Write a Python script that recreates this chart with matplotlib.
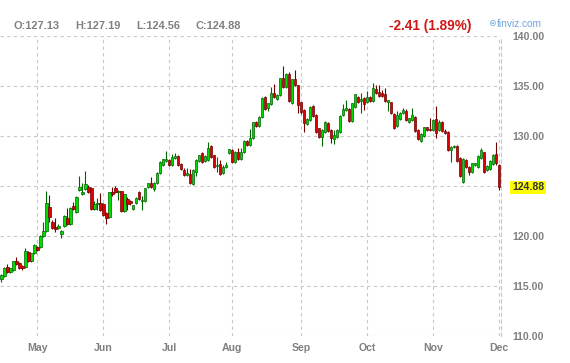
import numpy as np
import matplotlib.pyplot as plt

plt.rcParams['font.family'] = ['Liberation Sans', 'DejaVu Sans']

# ── Daily OHLC (mid-April .. 1 Dec) ──────────────────────────────
opens = [
    115.7, 116.03, 116.93, 116.43, 116.6, 117.53, 117.27, 117.0, 116.87, 118.37, 117.47, 118.3,
    118.9, 118.9, 120.0, 120.47, 122.9, 121.43, 120.93, 120.77, 120.17, 121.0, 121.77, 121.2,
    123.03, 122.43, 124.57, 124.2, 124.67, 124.93, 124.83, 122.7,
    123.2, 123.33, 123.2, 122.27, 121.87, 124.4, 124.8, 124.4, 124.47, 122.47, 123.73, 123.53,
    122.67, 123.27, 124.4, 123.5, 123.53, 124.93, 125.33, 124.67, 125.33, 126.27, 127.13, 127.53,
    127.6, 127.07, 127.8, 128.0, 127.2, 126.6, 126.13, 126.2, 125.2,
    126.43, 127.53, 128.27, 127.53, 127.6, 129.0, 128.07, 127.0, 127.2, 126.27, 126.93, 128.27,
    128.6, 127.43, 128.37, 127.67, 128.43, 129.53, 129.1, 129.77, 131.4, 131.0, 131.87, 133.9,
    132.77, 133.17, 134.27, 133.73, 134.07, 135.83, 134.93, 136.2, 133.33, 135.73,
    135.07, 133.37, 132.6, 131.17, 131.57, 132.97, 132.1, 130.77, 129.9, 130.43, 131.33, 130.6,
    129.7, 129.93, 130.37, 132.1, 132.6, 132.7, 131.53, 132.93, 133.93, 133.53, 133.83, 133.37,
    133.9, 133.5, 134.7, 134.37, 134.27, 134.17, 133.43, 133.37, 132.2,
    131.03, 131.7, 132.27, 132.5, 131.43, 131.6, 131.93, 130.6, 129.53, 130.03, 130.87, 130.73,
    130.6, 131.7, 130.6, 131.37, 130.53, 130.43, 128.6, 128.9, 129.0, 127.83, 125.37, 127.6,
    126.93, 126.43, 127.1, 126.93, 127.77, 128.37, 126.6, 126.7, 127.17, 128.17, 127.13,
]
highs = [
    116.2, 116.9, 117.17, 116.85, 117.55, 117.87, 117.4, 117.1, 118.77, 118.5, 118.35, 119.17,
    119.0, 120.1, 121.37, 124.5, 124.1, 121.6, 121.83, 121.2, 120.6, 122.1, 122.83, 122.9,
    123.43, 124.0, 126.0, 125.27, 126.5, 125.1, 124.9, 123.5,
    123.83, 124.27, 123.3, 122.4, 124.45, 124.93, 125.0, 124.6, 124.55, 124.25, 123.9, 123.65,
    123.15, 123.9, 124.5, 124.0, 124.85, 125.35, 125.93, 125.4, 126.4, 127.5, 127.75, 128.53,
    127.7, 128.2, 128.3, 128.1, 127.3, 126.8, 126.8, 126.7, 126.7,
    127.7, 128.15, 128.4, 128.1, 129.4, 129.1, 128.15, 127.93, 127.6, 127.07, 127.4, 128.75,
    128.7, 128.5, 128.77, 128.77, 129.6, 129.6, 130.67, 131.45, 131.5, 132.0, 133.95, 134.0,
    133.35, 134.93, 135.2, 134.2, 135.85, 137.0, 136.3, 136.43, 135.75, 136.6,
    135.15, 133.45, 132.7, 131.8, 133.0, 133.1, 132.2, 130.85, 130.7, 131.5, 131.45, 130.7,
    130.6, 130.7, 132.1, 133.17, 133.6, 132.8, 133.35, 134.25, 134.0, 134.27, 133.9, 134.5,
    134.0, 135.27, 135.1, 135.1, 134.6, 134.83, 133.6, 133.45, 132.3,
    132.5, 132.45, 132.83, 132.7, 131.85, 132.77, 132.0, 130.7, 130.27, 130.95, 130.95, 131.83,
    131.7, 133.0, 131.6, 131.5, 130.7, 130.5, 129.0, 129.1, 129.1, 127.9, 127.8, 127.7,
    127.0, 127.35, 127.35, 128.1, 128.77, 128.45, 127.1, 127.6, 128.2, 129.37, 127.19,
]
lows = [
    115.4, 115.9, 116.3, 116.3, 116.55, 117.1, 116.7, 116.65, 116.8, 117.4, 117.4, 118.2,
    118.5, 118.8, 119.9, 120.4, 121.37, 120.7, 120.43, 120.7, 119.77, 120.9, 121.1, 121.1,
    122.6, 122.35, 124.5, 124.1, 124.6, 124.3, 122.6, 122.6,
    122.6, 122.5, 122.0, 121.17, 121.8, 124.0, 124.35, 123.6, 122.4, 122.4, 122.6, 123.1,
    122.6, 123.2, 123.65, 122.6, 123.45, 124.8, 124.8, 124.5, 125.25, 126.2, 127.05, 127.45,
    127.0, 127.0, 127.7, 127.0, 126.6, 126.05, 126.05, 125.25, 125.1,
    126.0, 127.45, 127.35, 127.45, 127.5, 127.85, 126.85, 126.43, 126.1, 126.2, 126.8, 128.2,
    127.35, 127.35, 127.6, 127.6, 128.35, 129.05, 129.0, 129.7, 130.9, 130.9, 131.8, 132.65,
    132.5, 133.1, 133.8, 133.6, 134.0, 134.85, 134.85, 133.45, 133.2, 135.0,
    132.27, 132.17, 130.37, 131.1, 131.5, 131.95, 130.3, 129.85, 129.03, 130.35, 130.4, 129.27,
    129.2, 129.85, 130.3, 132.0, 132.5, 131.45, 131.45, 132.85, 133.35, 132.27, 132.6, 133.3,
    133.4, 133.4, 134.2, 133.95, 133.95, 133.45, 132.5, 132.2, 130.75,
    130.95, 131.6, 132.2, 131.5, 131.3, 131.5, 130.45, 129.6, 129.4, 129.95, 130.55, 130.5,
    130.5, 129.83, 130.5, 130.45, 130.2, 128.5, 127.37, 128.8, 127.45, 125.95, 125.3, 126.85,
    126.1, 126.35, 127.0, 126.85, 127.7, 126.3, 126.5, 126.6, 127.1, 127.1, 124.56,
]
closes = [
    116.1, 116.83, 116.37, 116.77, 117.5, 117.17, 116.77, 116.77, 118.5, 117.47, 118.27, 119.1,
    118.57, 120.0, 120.47, 123.27, 121.87, 120.77, 120.7, 121.0, 120.5, 122.0, 121.2, 122.77,
    122.67, 123.9, 124.9, 124.4, 125.2, 124.37, 122.7, 123.17,
    123.33, 122.6, 122.13, 121.77, 124.37, 124.17, 124.43, 124.53, 122.47, 124.17, 123.2, 123.27,
    123.07, 123.8, 123.73, 123.63, 124.77, 125.27, 124.87, 125.33, 126.33, 127.4, 127.67, 127.67,
    127.07, 127.87, 128.0, 127.07, 126.67, 126.13, 126.33, 125.33, 126.6,
    127.6, 128.07, 127.43, 128.0, 128.8, 127.93, 126.93, 127.13, 126.2, 126.87, 127.1, 128.67,
    127.43, 128.43, 127.67, 128.43, 129.5, 129.13, 129.77, 131.37, 131.0, 131.93, 133.83, 132.73,
    133.27, 134.3, 133.87, 134.13, 135.77, 134.93, 136.2, 133.53, 135.67, 135.07,
    133.07, 132.37, 131.27, 131.7, 132.9, 132.03, 130.37, 129.93, 130.6, 131.43, 130.5, 129.77,
    130.1, 130.6, 132.0, 132.67, 132.77, 131.53, 133.27, 134.17, 133.43, 133.7, 133.17, 133.9,
    133.5, 134.77, 134.27, 134.03, 134.03, 133.53, 133.6, 132.27, 130.83,
    132.1, 132.33, 132.6, 131.6, 131.77, 132.1, 130.53, 129.7, 130.17, 130.87, 130.63, 130.6,
    131.6, 130.27, 131.37, 130.53, 130.27, 128.6, 128.93, 129.0, 127.53, 126.03, 127.7, 126.93,
    126.37, 127.27, 127.27, 128.0, 128.6, 126.37, 127.0, 127.53, 128.1, 127.29, 124.88,
]

month_labels = ['May', 'Jun', 'Jul', 'Aug', 'Sep', 'Oct', 'Nov', 'Dec']
month_starts = [12, 34, 56, 77, 100, 122, 144, 166]   # trading-day index of 1st session
price_ticks = [110, 115, 120, 125, 130, 135, 140]

last_o, last_h, last_l, last_c = opens[-1], highs[-1], lows[-1], closes[-1]
change = last_c - closes[-2]

# ── Colours ──────────────────────────────────────────────────
UP_FACE, UP_EDGE = '#00dc00', '#006400'
DN_FACE, DN_EDGE = '#dc0000', '#700000'
GRID = '#c8c8c8'
TXT = '#808080'

o = np.array(opens)
h = np.array(highs)
l = np.array(lows)
c = np.array(closes)
x = np.arange(len(o))
up = c >= o

fig = plt.figure(figsize=(5.70, 3.63), dpi=100)
ax = fig.add_axes([0.0, 1 - 336 / 363, 501 / 570, 300 / 363])

# wicks
ax.vlines(x[up], l[up], h[up], color=UP_EDGE, linewidth=0.8, zorder=2)
ax.vlines(x[~up], l[~up], h[~up], color=DN_EDGE, linewidth=0.8, zorder=2)

# bodies
body_lo = np.minimum(o, c)
body_h = np.maximum(np.abs(c - o), 0.08)
ax.bar(x[up], body_h[up], bottom=body_lo[up], width=0.86,
       color=UP_FACE, edgecolor=UP_EDGE, linewidth=0.5, zorder=3)
ax.bar(x[~up], body_h[~up], bottom=body_lo[~up], width=0.86,
       color=DN_FACE, edgecolor=DN_EDGE, linewidth=0.5, zorder=3)

ax.set_xlim(-0.43, len(o) - 0.33)
ax.set_ylim(110, 140)

# grid
ax.set_xticks(month_starts)
ax.set_xticklabels(month_labels, fontweight='bold')
ax.set_yticks(price_ticks)
ylabels = ['' if abs(t - last_c) < 1.5 else f'{t:.2f}' for t in price_ticks]
ax.set_yticklabels(ylabels, fontweight='bold')
ax.yaxis.tick_right()
ax.grid(True, color=GRID, linestyle=(0, (3, 3)), linewidth=0.8, zorder=0)
ax.set_axisbelow(True)
ax.tick_params(axis='both', length=0, labelcolor=TXT, labelsize=7.6)
ax.tick_params(axis='y', pad=8)
ax.tick_params(axis='x', pad=5)

for s in ['top', 'left', 'bottom']:
    ax.spines[s].set_visible(False)
ax.spines['right'].set_color(GRID)
ax.spines['right'].set_linestyle((0, (3, 3)))
ax.spines['right'].set_linewidth(0.8)

# last close marker on the price axis
ax.annotate(f'{last_c:.2f}', xy=(1 + 11 / 501, last_c), xycoords=('axes fraction', 'data'),
            ha='left', va='center', fontsize=7.6, fontweight='bold', color='#333333',
            annotation_clip=False,
            bbox=dict(facecolor='#ffff00', edgecolor='none', pad=1.2))

# header
ty = 1 - 26 / 363
for px, s in zip([14, 75, 136, 196],
                 [f'O:{last_o:.2f}', f'H:{last_h:.2f}', f'L:{last_l:.2f}', f'C:{last_c:.2f}']):
    fig.text(px / 570, ty, s, ha='left', va='center', fontsize=7.9, fontweight='bold', color=TXT)

fig.text(471 / 570, ty, f'{change:.2f} ({abs(change) / closes[-2] * 100:.2f}%)',
         ha='right', va='center', fontsize=9.8, fontweight='bold', color='#d01818')
fig.text(488 / 570, 1 - 24 / 363, '\u229c', ha='left', va='center', fontsize=6.5,
         color='#6fa3dc', family='DejaVu Sans')
fig.text(497 / 570, 1 - 24 / 363, 'finviz.com', ha='left', va='center', fontsize=7.3,
         color='#6fa3dc')

fig.savefig('out.png', dpi=100)
